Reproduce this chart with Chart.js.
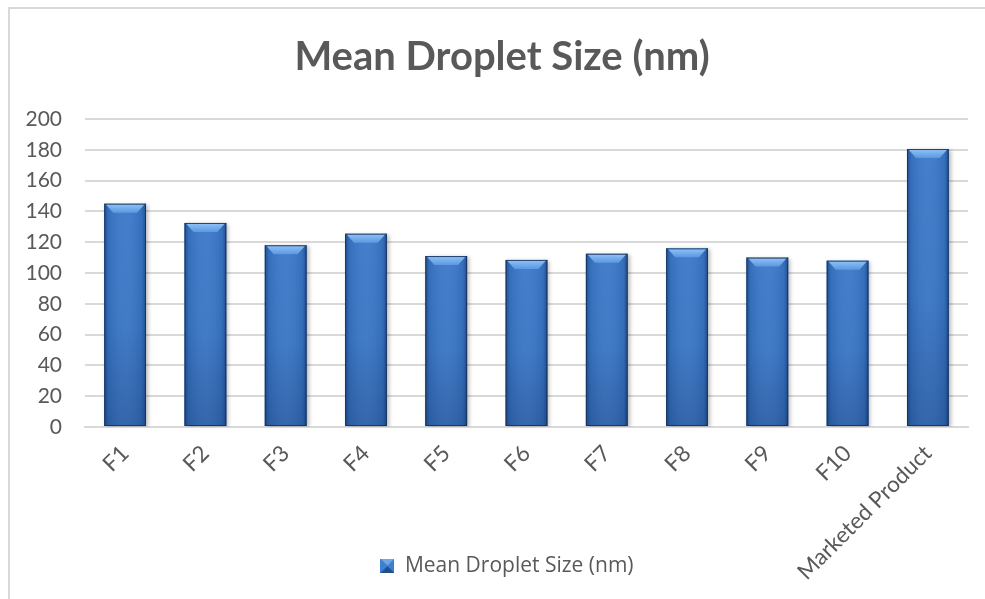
<!DOCTYPE html>
<html>
<head>
<meta charset="utf-8">
<script src="https://cdn.jsdelivr.net/npm/chart.js@4.4.1/dist/chart.umd.min.js"></script>
<style>
  html, body { margin: 0; padding: 0; background: #ffffff; }
  #wrap { width: 985px; height: 599px; position: relative; }
</style>
</head>
<body>
<div id="wrap"><canvas id="chart" width="985" height="599"></canvas></div>
<script>
// Formulations and their mean droplet size (nm)
const categories = ['F1', 'F2', 'F3', 'F4', 'F5', 'F6', 'F7', 'F8', 'F9', 'F10', 'Marketed Product'];
const dropletSizes = [145, 132.5, 118, 125.5, 111, 108.5, 112.5, 116, 110, 108, 180.5];
const seriesName = 'Mean Droplet Size (nm)';
const yMin = 0;
const yMax = 200;
const yStep = 20;

const TEXT = '#595959';
const GRID = '#d9d9d9';
const BAR = '#3a78c9';

// small bevelled square used as the legend marker
function legendMarker() {
  const s = 14, c = document.createElement('canvas');
  c.width = s; c.height = s;
  const g = c.getContext('2d');
  g.fillStyle = '#2f6bb8'; g.fillRect(0, 0, s, s);
  g.fillStyle = '#6ea6e6';
  g.beginPath(); g.moveTo(0, 0); g.lineTo(s, 0); g.lineTo(s / 2, s / 2); g.closePath(); g.fill();
  g.fillStyle = '#1f4f8f';
  g.beginPath(); g.moveTo(0, s); g.lineTo(s, s); g.lineTo(s / 2, s / 2); g.closePath(); g.fill();
  g.fillStyle = '#3f7fcf';
  g.beginPath(); g.moveTo(0, 0); g.lineTo(0, s); g.lineTo(s / 2, s / 2); g.closePath(); g.fill();
  g.beginPath(); g.moveTo(s, 0); g.lineTo(s, s); g.lineTo(s / 2, s / 2); g.closePath(); g.fill();
  return c;
}

// light frame along the top and left edges
const framePlugin = {
  id: 'frame',
  beforeDraw(chart) {
    const ctx = chart.ctx;
    ctx.save();
    ctx.fillStyle = '#ffffff';
    ctx.fillRect(0, 0, chart.width, chart.height);
    ctx.strokeStyle = GRID;
    ctx.lineWidth = 2;
    ctx.beginPath();
    ctx.moveTo(9, chart.height);
    ctx.lineTo(9, 8);
    ctx.lineTo(chart.width, 8);
    ctx.stroke();
    ctx.restore();
  }
};

// the frame runs on past the right edge, so title and legend sit a bit right of
// the canvas centre; the long rotated category label may run under the legend row
const placementPlugin = {
  id: 'placement',
  afterLayout(chart) {
    const shiftBox = (box, dx) => { box.left += dx; box.right += dx; };
    if (chart.titleBlock) shiftBox(chart.titleBlock, 18);
    if (chart.legend) shiftBox(chart.legend, 23);
    chart.scales.x.bottom = chart.height;
  }
};

// soft shadow under the bars, then bevel shading on top of each bar element
const bevelPlugin = {
  id: 'bevel',
  beforeDatasetsDraw(chart) {
    const ctx = chart.ctx;
    ctx.save();
    ctx.shadowColor = 'rgba(0,0,0,0.28)';
    ctx.shadowBlur = 4;
    ctx.shadowOffsetX = 2;
    ctx.shadowOffsetY = 1;
  },
  afterDatasetsDraw(chart) {
    const ctx = chart.ctx;
    ctx.restore();
    ctx.save();
    chart.getDatasetMeta(0).data.forEach(bar => {
      const { x, y, base, width } = bar.getProps(['x', 'y', 'base', 'width'], true);
      const l = x - width / 2, r = x + width / 2, t = y, b = base, h = b - t;

      const side = ctx.createLinearGradient(l, 0, r, 0);
      side.addColorStop(0, 'rgba(15,45,95,0.55)');
      side.addColorStop(0.1, 'rgba(15,45,95,0.12)');
      side.addColorStop(0.5, 'rgba(255,255,255,0.05)');
      side.addColorStop(0.9, 'rgba(15,45,95,0.12)');
      side.addColorStop(1, 'rgba(15,45,95,0.55)');
      ctx.fillStyle = side;
      ctx.fillRect(l, t, width, h);

      const down = ctx.createLinearGradient(0, t, 0, b);
      down.addColorStop(0, 'rgba(15,45,95,0)');
      down.addColorStop(0.55, 'rgba(15,45,95,0.05)');
      down.addColorStop(1, 'rgba(15,45,95,0.3)');
      ctx.fillStyle = down;
      ctx.fillRect(l, t, width, h);

      const bev = Math.min(9, h / 2);
      const top = ctx.createLinearGradient(0, t, 0, t + bev);
      top.addColorStop(0, 'rgba(150,200,250,0.95)');
      top.addColorStop(1, 'rgba(95,155,228,0.9)');
      ctx.fillStyle = top;
      ctx.beginPath();
      ctx.moveTo(l + 1, t);
      ctx.lineTo(r - 1, t);
      ctx.lineTo(r - bev, t + bev);
      ctx.lineTo(l + bev, t + bev);
      ctx.closePath();
      ctx.fill();

      ctx.strokeStyle = 'rgba(22,50,92,0.9)';
      ctx.lineWidth = 1;
      ctx.strokeRect(l + 0.5, t + 0.5, width - 1, h - 1);
    });
    ctx.restore();
  }
};

new Chart(document.getElementById('chart'), {
  type: 'bar',
  data: {
    labels: categories,
    datasets: [{
      label: seriesName,
      data: dropletSizes,
      backgroundColor: BAR,
      borderWidth: 0,
      barPercentage: 0.52,
      categoryPercentage: 1.0
    }]
  },
  options: {
    responsive: false,
    animation: false,
    layout: { padding: { left: 0, right: 17, top: 0, bottom: 12.5 } },
    plugins: {
      title: {
        display: true,
        text: seriesName,
        color: TEXT,
        font: { family: 'Lato', size: 40, weight: 'bold' },
        padding: { top: 33, bottom: 38 }
      },
      legend: {
        display: true,
        position: 'bottom',
        labels: {
          color: TEXT,
          font: { family: 'Open Sans', size: 21 },
          usePointStyle: true,
          pointStyle: legendMarker(),
          pointStyleWidth: 14,
          boxWidth: 14,
          boxHeight: 14,
          padding: 10
        }
      },
      tooltip: { enabled: false }
    },
    scales: {
      x: {
        grid: { display: false, drawTicks: false },
        border: { display: true, color: GRID, width: 2 },
        ticks: {
          color: TEXT,
          font: { family: 'Lato', size: 22.5 },
          minRotation: 45,
          maxRotation: 45,
          autoSkip: false,
          padding: 13
        },
        afterFit(scale) { scale.height = 118.5; }
      },
      y: {
        min: yMin,
        max: yMax,
        grid: { color: GRID, lineWidth: 2, drawTicks: false },
        border: { display: false },
        ticks: {
          stepSize: yStep,
          color: TEXT,
          font: { family: 'Lato', size: 21 },
          padding: 23
        },
        afterFit(scale) { scale.width = 85; }
      }
    }
  },
  plugins: [framePlugin, placementPlugin, bevelPlugin]
});
</script>
</body>
</html>
